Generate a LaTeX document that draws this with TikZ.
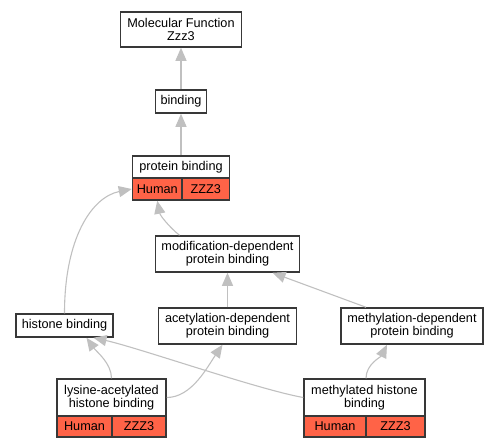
\documentclass[tikz,border=0pt]{standalone}
\usepackage{fontspec}
\setmainfont{Liberation Sans}
\usetikzlibrary{arrows.meta}
\usetikzlibrary{math}

\definecolor{boxline}{HTML}{383838}
\definecolor{edgegray}{HTML}{C0C0C0}
\definecolor{species}{HTML}{FF6347}

\tikzset{
    term/.style={draw=boxline, line width=1.5pt, fill=white, inner sep=0pt, align=center,
        font=\fontsize{12.7}{13.3}\selectfont},
    cell/.style={term, fill=species},
    isa/.style={draw=edgegray, line width=1.1pt, -{Triangle[length=13pt,width=11pt]}},
}

\begin{document}
\begin{tikzpicture}[x=1pt, y=-1pt]

% Size settings
\tikzmath{
    \HOne = 23;
    \HTwo = 36;
    \HRow = 22;
}

\useasboundingbox (0,0) rectangle (499,448);

% Draws terms
\node [term, minimum width=121pt, minimum height=35pt] (mf) at (181,29.5) {Molecular Function\\Zzz3};
\node [term, minimum width=51pt, minimum height=\HOne pt] (binding) at (181,101.5) {binding};

\node [term, minimum width=97pt, minimum height=\HRow pt] (prot) at (181,167) {protein binding};
\node [cell, minimum width=49.5pt, minimum height=\HRow pt] (protH) at (157.25,189) {Human};
\node [cell, minimum width=47.5pt, minimum height=\HRow pt] (protZ) at (205.75,189) {ZZZ3};

\node [term, minimum width=144pt, minimum height=\HTwo pt] (moddep) at (227.5,254) {modification-dependent\\protein binding};
\node [term, minimum width=97pt, minimum height=\HOne pt] (histone) at (64.5,325.5) {histone binding};
\node [term, minimum width=138pt, minimum height=\HTwo pt] (acetyl) at (227.5,326) {acetylation-dependent\\protein binding};
\node [term, minimum width=142pt, minimum height=\HTwo pt] (methyl) at (412,326) {methylation-dependent\\protein binding};

\node [term, minimum width=109pt, minimum height=37pt] (lysine) at (111.5,397.5) {lysine-acetylated\\histone binding};
\node [cell, minimum width=55pt, minimum height=21pt] (lysineH) at (84.5,426.5) {Human};
\node [cell, minimum width=54pt, minimum height=21pt] (lysineZ) at (139,426.5) {ZZZ3};

\node [term, minimum width=121pt, minimum height=37pt] (mhist) at (364.5,397.5) {methylated histone\\binding};
\node [cell, minimum width=62pt, minimum height=21pt] (mhistH) at (335,426.5) {Human};
\node [cell, minimum width=59pt, minimum height=21pt] (mhistZ) at (395.5,426.5) {ZZZ3};

% Draws edges
\draw [isa] (binding) -- (mf);
\draw [isa] (prot) -- (binding);
\draw [isa] ([xshift=-48pt]moddep.north) .. controls +(-10,-8) and +(3,15) .. (protH.south);
\draw [isa] (histone.north) .. controls +(0,-75) and +(-40,8) .. (protH.west);
\draw [isa] (acetyl) -- (moddep);
\draw [isa] ([xshift=-46pt]methyl.north) -- ([xshift=45pt]moddep.south);
\draw [isa] (lysine.north) .. controls +(0,-15) and +(10,14) .. ([xshift=22pt]histone.south);
\draw [isa] (lysine.east) .. controls +(25,0) and +(-15,22) .. ([xshift=-5pt]acetyl.south);
\draw [isa] (mhist.west) .. controls +(-45,-8) and +(45,10) .. ([xshift=29pt]histone.south);
\draw [isa] ([xshift=1.5pt]mhist.north) .. controls +(0,-14) and +(-6,12) .. ([xshift=-25pt]methyl.south);

\end{tikzpicture}
\end{document}
